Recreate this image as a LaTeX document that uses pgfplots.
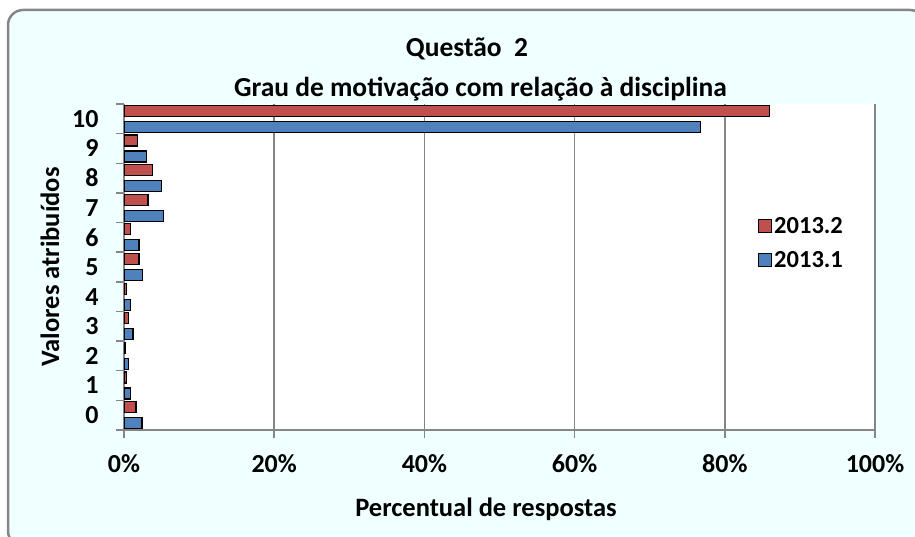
\documentclass[border=0pt]{standalone}
\usepackage{pgfplots}
\pgfplotsset{compat=1.18}
\usepackage{fontspec}
\setmainfont{Carlito}
\definecolor{bgc}{RGB}{240,255,255}
\definecolor{redbar}{RGB}{192,80,77}
\definecolor{bluebar}{RGB}{79,129,189}
\definecolor{gridc}{RGB}{134,134,134}
\pgfplotsset{mylegend/.style={legend image code/.code={\draw[##1,draw=black,line width=1.2pt] (0pt,-6.5pt) rectangle (13pt,6.5pt);}}}
\begin{document}
\begin{tikzpicture}[x=1pt,y=1pt]
\useasboundingbox (0,0) rectangle (915,536);
\begin{scope}
\clip (0,0) rectangle (915,536);
\draw[gridc, line width=2.5pt, fill=bgc, rounded corners=15pt] (8,-10) rectangle (925,526);
\end{scope}
\begin{axis}[at={(124pt,106pt)}, anchor=south west, scale only axis,
  width=751pt, height=326pt,
  xbar, bar width=0.37,
  xmin=0, xmax=100, ymin=-0.5, ymax=10.5,
  axis background/.style={fill=white},
  axis lines*=left, axis line style={gridc, line width=1.5pt, -},
  xtick={0,20,...,100}, xticklabels={0\%,20\%,40\%,60\%,80\%,100\%},
  ytick={-0.5,0.5,...,10.5}, yticklabels={0,1,2,3,4,5,6,7,8,9,10,{}},
  yticklabel style={yshift=14.82pt, xshift=-14pt},
  xticklabel style={yshift=-13pt},
  tick align=outside, major tick length=8pt,
  tick style={gridc, line width=1.5pt},
  xmajorgrids, major x grid style={gridc, line width=1.5pt},
  /pgf/number format/assume math mode=true,
  ticklabel style={font=\fontsize{26}{30}\selectfont\bfseries},
  legend style={at={(0.840,0.665)}, anchor=north west, draw=none, fill=none,
    font=\fontsize{24.5}{28}\selectfont\bfseries, row sep=12pt,
    legend cell align=left},
]
\addplot[fill=redbar, draw=black, line width=1.2pt, bar shift=0.27, mylegend] coordinates {
(1.6,0) (0.3,1) (0.2,2) (0.6,3) (0.3,4) (2.0,5) (0.9,6) (3.2,7) (3.8,8) (1.8,9) (86.0,10)};
\addlegendentry{2013.2}
\addplot[fill=bluebar, draw=black, line width=1.2pt, bar shift=-0.27, mylegend] coordinates {
(2.4,0) (0.9,1) (0.6,2) (1.2,3) (0.9,4) (2.5,5) (2.0,6) (5.3,7) (5.0,8) (3.0,9) (76.8,10)};
\addlegendentry{2013.1}
\end{axis}
\node[anchor=base, font=\fontsize{27.5}{32}\selectfont\bfseries] at (467,479) {Questão~~2};
\node[anchor=base, font=\fontsize{27.5}{32}\selectfont\bfseries] at (480.5,439) {Grau de motivação com relação à disciplina};
\node[anchor=base, font=\fontsize{26.5}{30}\selectfont\bfseries] at (486,20) {Percentual de respostas};
\node[rotate=90, anchor=base, font=\fontsize{26.5}{30}\selectfont\bfseries] at (59,269) {Valores atribuídos};
\end{tikzpicture}
\end{document}
